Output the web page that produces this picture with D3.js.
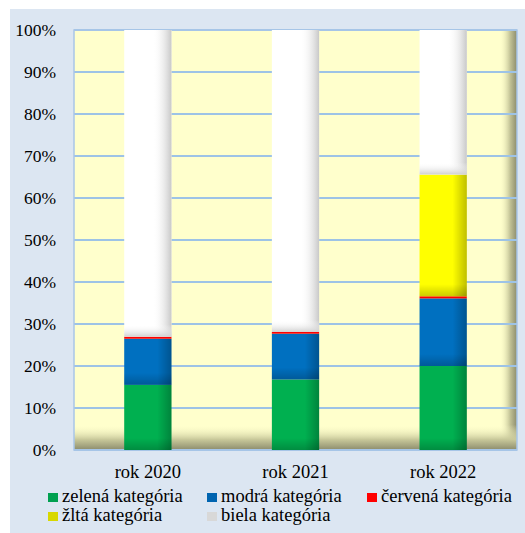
<!DOCTYPE html>
<html><head><meta charset="utf-8">
<script src="https://cdn.jsdelivr.net/npm/d3@7"></script>
<style>body{margin:0;background:#fff}svg{display:block}</style>
</head><body>
<script>
const categories = ["rok 2020","rok 2021","rok 2022"];
const seriesNames = ["zelená kategória","modrá kategória","červená kategória","žltá kategória","biela kategória"];
const zelena = [15.5, 16.8, 20.0];
const modra  = [11.0, 10.9, 16.1];
const cervena= [0.5, 0.4, 0.5];
const zlta   = [0.0, 0.0, 29.0];
const biela  = [73.0, 71.9, 34.4];
const yTicks = [0,10,20,30,40,50,60,70,80,90,100];
const colors = ["#00b050","#0070c0","#ff0000","#ffff00","#ffffff"];
const legendColors = ["#00a050","#0064b0","#ff0000","#d8d800","#d8d8d8"];
const FONT = "Liberation Serif";

const W=525,H=533;
const svg=d3.select("body").append("svg").attr("width",W).attr("height",H);
const defs=svg.append("defs");

svg.append("rect").attr("x",10).attr("y",9).attr("width",W-10).attr("height",H-9).attr("fill","#dce6f2");

const pl=74,pr=517,pt=30,pb=450;
const x=d3.scaleBand().domain(categories).range([pl,pr]).paddingInner(0.68).paddingOuter(0.34);
const y=d3.scaleLinear().domain([0,100]).range([pb,pt]);

let gid=0;
function lin(x1,y1,x2,y2,stops){const id="g"+(gid++);const g=defs.append("linearGradient").attr("id",id).attr("x1",x1).attr("y1",y1).attr("x2",x2).attr("y2",y2);
 stops.forEach(s=>g.append("stop").attr("offset",s[0]).attr("stop-color",s[1]).attr("stop-opacity",s[2]));return "url(#"+id+")";}
const plotR=lin("0","0","1","0",[[0,"#ffffcc",0],[0.96,"#ffffcc",0],[0.985,"#c0c094",1],[1,"#8c8c6c",1]]);
const plotB=lin("0","0","0","1",[[0,"#ffffcc",0],[0.94,"#ffffcc",0],[0.975,"#c8c89a",1],[1,"#8c8c6c",1]]);
const barR=lin("0","0","1","0",[[0,"#000",0],[0.7,"#000",0],[1,"#000",0.25]]);
const whiteR=lin("0","0","1","0",[[0,"#fff",0],[0.6,"#fff",0],[1,"#c8c8c8",1]]);

svg.append("rect").attr("x",pl).attr("y",pt).attr("width",pr-pl).attr("height",pb-pt).attr("fill","#ffffcc");
svg.append("rect").attr("x",pl).attr("y",pt).attr("width",pr-pl).attr("height",pb-pt).attr("fill",plotR);
svg.append("rect").attr("x",pl).attr("y",pt).attr("width",pr-pl).attr("height",pb-pt).attr("fill",plotB);

svg.append("g").selectAll("line").data(yTicks).join("line")
 .attr("x1",pl).attr("x2",pr).attr("y1",d=>y(d)).attr("y2",d=>y(d))
 .attr("stroke","#9dc3e6").attr("stroke-width",2);
svg.append("rect").attr("x",pl).attr("y",pt).attr("width",pr-pl).attr("height",pb-pt)
 .attr("fill","none").attr("stroke","#a9c6e8").attr("stroke-width",1.5);

const seriesData=[zelena,modra,cervena,zlta,biela];
const rows=categories.map((c,i)=>{const o={cat:c};seriesNames.forEach((s,j)=>o[s]=seriesData[j][i]);return o;});
const stacked=d3.stack().keys(seriesNames)(rows);
const g=svg.append("g");
stacked.forEach((layer,j)=>{
 layer.forEach(d=>{
  const x0=x(d.data.cat),bw=x.bandwidth(),y0=y(d[1]),h=y(d[0])-y(d[1]);
  if(h<=0) return;
  g.append("rect").attr("x",x0).attr("y",y0).attr("width",bw).attr("height",h).attr("fill",colors[j]);
  if(j===2) return;
  const f=Math.max(0,1-12/h);
  if(j===4){
   g.append("rect").attr("x",x0).attr("y",y0).attr("width",bw).attr("height",h).attr("fill",whiteR);
   g.append("rect").attr("x",x0).attr("y",y0).attr("width",bw).attr("height",h)
    .attr("fill",lin("0","0","0","1",[[0,"#fff",0],[f,"#fff",0],[1,"#d0d0d0",1]]));
  } else {
   g.append("rect").attr("x",x0).attr("y",y0).attr("width",bw).attr("height",h).attr("fill",barR);
   g.append("rect").attr("x",x0).attr("y",y0).attr("width",bw).attr("height",h)
    .attr("fill",lin("0","0","0","1",[[0,"#000",0],[f,"#000",0],[1,"#000",0.2]]));
  }
 });
});

svg.append("g").selectAll("text").data(yTicks).join("text")
 .attr("x",56).attr("y",d=>y(d)+5.5).attr("text-anchor","end")
 .style("font-family",FONT).style("font-size","17.5px").attr("fill","#000").text(d=>d+"%");

svg.append("g").selectAll("text").data(categories).join("text")
 .attr("x",d=>x(d)+x.bandwidth()/2).attr("y",478).attr("text-anchor","middle")
 .style("font-family",FONT).style("font-size","18.5px").attr("fill","#000").text(d=>d);

const legPos=[[48,502],[207,502],[367,502],[48,521],[207,521]];
seriesNames.forEach((s,j)=>{
 const [lx,ly]=legPos[j];
 svg.append("rect").attr("x",lx).attr("y",ly-9).attr("width",10).attr("height",9).attr("fill",legendColors[j]);
 svg.append("text").attr("x",lx+14).attr("y",ly).style("font-family",FONT).style("font-size","18.5px").attr("fill","#000").text(s);
});
</script>
</body></html>
